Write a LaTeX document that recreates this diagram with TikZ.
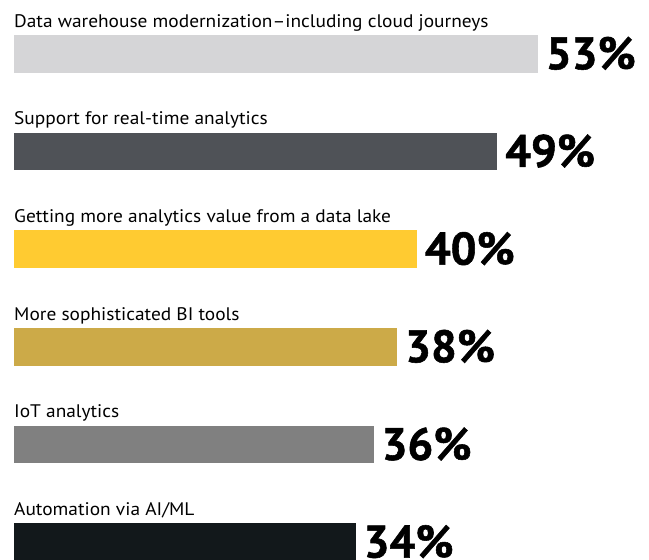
\documentclass[tikz,border=0pt]{standalone}
\usepackage{fontspec}
\setmainfont{PT Sans}
\newfontfamily\lblfont[FakeStretch=1.065]{PT Sans}
\newfontfamily\pctfont[FakeBold=1.2]{PT Sans Bold}
\definecolor{c1}{HTML}{D5D5D7}
\definecolor{c2}{HTML}{4F5257}
\definecolor{c3}{HTML}{FFCB31}
\definecolor{c4}{HTML}{CCAA48}
\definecolor{c5}{HTML}{808080}
\definecolor{c6}{HTML}{12181B}
\tikzset{
  barbox/.style={fill=#1, draw=none, inner sep=0pt, outer sep=0pt},
  lbl/.style={anchor=base west, inner sep=0pt, font=\lblfont\fontsize{18.2}{20}\selectfont, text=black},
  pct/.style={anchor=base west, inner sep=0pt, font=\pctfont\fontsize{45.5}{48}\selectfont, text=black}
}
\begin{document}
\begin{tikzpicture}[x=1pt,y=-1pt]
\fill[white] (0,0) rectangle (649,560);
\useasboundingbox (0,0) rectangle (649,560);
\begin{scope}
\clip (0,0) rectangle (649,560);
\foreach \i/\top/\xend/\p/\t in {
  1/35/537.7/53/{Data warehouse modernization–including cloud journeys},
  2/132.7/497/49/{Support for real-time analytics},
  3/230.3/416.7/40/{Getting more analytics value from a data lake},
  4/328/397/38/{More sophisticated BI tools},
  5/425.7/373.5/36/{IoT analytics},
  6/523.3/355.5/34/{Automation via AI/ML}}{
  \node[barbox=c\i, minimum width={(\xend-14)*1pt}, minimum height=37.5pt, anchor=north west] (b\i) at (14,\top) {};
  \node[lbl] (l\i) at (14,\top-8) {\t};
  \node[pct] (p\i) at ([xshift=8pt, yshift=-15.5pt]b\i.east) {\p\%};
}
\end{scope}
\end{tikzpicture}
\end{document}
